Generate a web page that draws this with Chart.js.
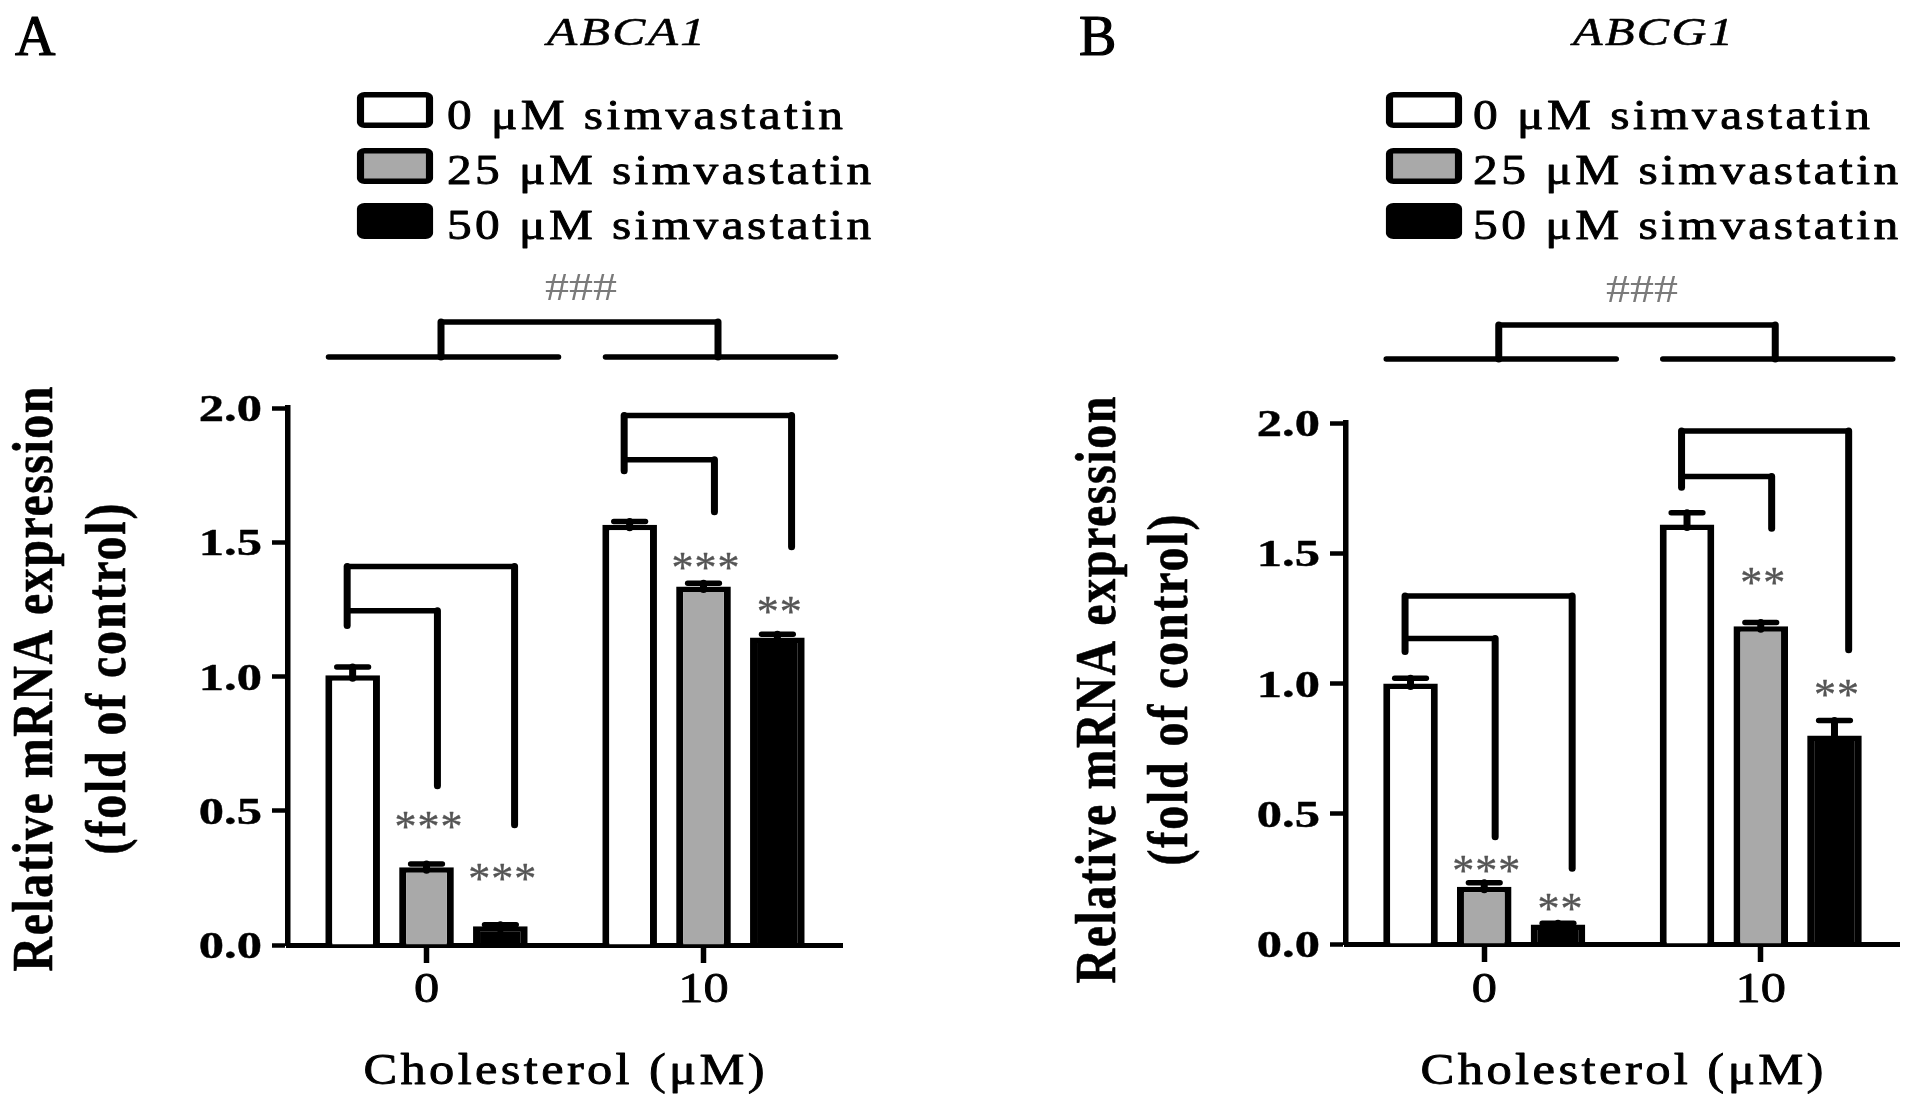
<!DOCTYPE html>
<html>
<head>
<meta charset="utf-8">
<script src="https://cdn.jsdelivr.net/npm/chart.js@4.4.0/dist/chart.umd.min.js"></script>
<style>
    html, body { margin: 0; background: #fff; }
    #wrap { position: relative; width: 1913px; height: 1103px; background: #fff; }
    canvas { position: absolute; top: 0; }
</style>
</head>
<body>
<div id="wrap">
    <canvas id="chartA" width="956" height="1103" style="left:0px"></canvas>
    <canvas id="chartB" width="957" height="1103" style="left:956px"></canvas>
</div>
<script>
const categories = ["0", "10"];
const seriesNames = ["0 μM simvastatin", "25 μM simvastatin", "50 μM simvastatin"];
const seriesColors = ["#ffffff", "#a9a9a9", "#000000"];
const yTicks = [0, 0.5, 1.0, 1.5, 2.0];

// ABCA1
const abca1_0 = [1.005, 1.565];
const abca1_25 = [0.29, 1.335];
const abca1_50 = [0.07, 1.145];
const abca1Err_0 = [0.03, 0.012];
const abca1Err_25 = [0.012, 0.012];
const abca1Err_50 = [0.005, 0.012];
const abca1Stars_25 = ["***", "***"];
const abca1Stars_50 = ["***", "**"];
const abca1StarY_25 = [0.462, 1.425];
const abca1StarY_50 = [0.269, 1.262];
// [top, left leg end, inner top, inner leg end, outer leg end]
const abca1Bracket_0 = [1.41, 1.19, 1.245, 0.593, 0.448];
const abca1Bracket_10 = [1.972, 1.766, 1.807, 1.614, 1.483];

// ABCG1
const abcg1_0 = [1.0, 1.61];
const abcg1_25 = [0.22, 1.22];
const abcg1_50 = [0.075, 0.80];
const abcg1Err_0 = [0.02, 0.045];
const abcg1Err_25 = [0.015, 0.014];
const abcg1Err_50 = [0.005, 0.058];
const abcg1Stars_25 = ["***", "**"];
const abcg1Stars_50 = ["**", "**"];
const abcg1StarY_25 = [0.303, 1.407];
const abcg1StarY_50 = [0.156, 0.98];
const abcg1Bracket_0 = [1.336, 1.123, 1.173, 0.412, 0.291];
const abcg1Bracket_10 = [1.969, 1.753, 1.795, 1.596, 1.13];

const SERIF = '"Liberation Serif", "Times New Roman", serif';
const H_LINE = 5.5;  // horizontal strokes
const V_LINE = 7;    // vertical strokes (figure is stretched sideways)

// draw text, optionally stretched to a width (or length when rotated)
function drawText(ctx, txt, o) {
    ctx.save();
    ctx.font = (o.style || "") + " " + (o.weight || "normal") + " " + o.size + "px " + SERIF;
    ctx.letterSpacing = (o.spacing || 0) + "px";
    let w = ctx.measureText(txt).width - (o.spacing || 0);
    let sx = o.sx || 1;
    if (o.rotate && o.length) {
        let extra = (o.length - w) / Math.max(1, txt.length - 1);
        ctx.letterSpacing = ((o.spacing || 0) + extra) + "px";
        w = o.length;
    } else if (o.width) {
        sx = o.width / w;
    }
    ctx.translate(o.x, o.y);
    ctx.scale(sx, 1);
    if (o.rotate) ctx.rotate(-Math.PI / 2);
    ctx.fillStyle = o.color || "#000";
    ctx.strokeStyle = o.color || "#000";
    ctx.textAlign = "left";
    ctx.textBaseline = "alphabetic";
    let x0 = o.align === "center" ? -w / 2 : o.align === "right" ? -w : 0;
    ctx.fillText(txt, x0, 0);
    if (o.stroke) {
        ctx.lineWidth = o.stroke;
        ctx.lineJoin = "round";
        ctx.strokeText(txt, x0, 0);
    }
    ctx.restore();
    return sx;
}

// straight segment, vertical ones drawn heavier
function seg(ctx, x1, y1, x2, y2) {
    ctx.lineWidth = Math.abs(x1 - x2) < 0.5 ? V_LINE : H_LINE;
    ctx.beginPath();
    ctx.moveTo(x1, y1);
    ctx.lineTo(x2, y2);
    ctx.stroke();
}

function makePanel(canvasId, p) {
    const L = p.layout;

    const decorPlugin = {
        id: "decor_" + canvasId,
        afterDatasetsDraw(chart) {
            const ctx = chart.ctx;
            const yScale = chart.scales.y;
            ctx.save();
            ctx.strokeStyle = "#000";
            ctx.lineCap = "round";
            // error bars (upper only)
            p.errs.forEach((errArr, i) => {
                chart.getDatasetMeta(i).data.forEach((bar, j) => {
                    const yTop = yScale.getPixelForValue(p.values[i][j] + errArr[j]);
                    const capW = bar.width * 0.58;
                    seg(ctx, bar.x, bar.y + 3, bar.x, yTop);
                    seg(ctx, bar.x - capW / 2, yTop, bar.x + capW / 2, yTop);
                });
            });
            ctx.restore();
        },
        afterDraw(chart) {
            const ctx = chart.ctx;
            const xScale = chart.scales.x;
            const yScale = chart.scales.y;
            const area = chart.chartArea;

            // y tick labels
            yTicks.forEach((v) => {
                drawText(ctx, v.toFixed(1), {
                    x: area.left - 26, y: yScale.getPixelForValue(v) + 13,
                    size: 38, weight: "bold", sx: 1.33, align: "right", stroke: 0.4,
                });
            });
            // x tick labels
            categories.forEach((c, i) => {
                drawText(ctx, c, {
                    x: xScale.getPixelForValue(i), y: 1002,
                    size: 42, sx: 1.2, align: "center", stroke: 0.8,
                });
            });

            ctx.save();
            ctx.strokeStyle = "#000";
            ctx.lineCap = "round";

            // comparison brackets inside the plot
            p.brackets.forEach((b, j) => {
                const m0 = chart.getDatasetMeta(0).data[j];
                const m1 = chart.getDatasetMeta(1).data[j];
                const m2 = chart.getDatasetMeta(2).data[j];
                const w = m0.width;
                const xl = m0.x - 0.1 * w;
                const xi = m1.x + 0.2 * w;
                const xo = m2.x + 0.26 * w;
                const yTop = yScale.getPixelForValue(b[0]);
                const yIn = yScale.getPixelForValue(b[2]);
                seg(ctx, xl, yScale.getPixelForValue(b[1]), xl, yTop);
                seg(ctx, xl, yTop, xo, yTop);
                seg(ctx, xo, yTop, xo, yScale.getPixelForValue(b[4]));
                seg(ctx, xl, yIn, xi, yIn);
                seg(ctx, xi, yIn, xi, yScale.getPixelForValue(b[3]));
            });

            // bracket between cholesterol groups (above the plot)
            const c0 = xScale.getPixelForValue(0);
            const c1 = xScale.getPixelForValue(1);
            const tb = L.topBracket;
            [c0, c1].forEach((c) => seg(ctx, c - 98, tb.lineY, c + 132, tb.lineY));
            seg(ctx, c0 + 14.5, tb.lineY, c0 + 14.5, tb.topY);
            seg(ctx, c0 + 14.5, tb.topY, c1 + 14.5, tb.topY);
            seg(ctx, c1 + 14.5, tb.topY, c1 + 14.5, tb.lineY);
            ctx.restore();

            // significance stars
            p.stars.forEach((arr, i) => {
                if (!arr) return;
                const meta = chart.getDatasetMeta(i);
                arr.forEach((s, j) => {
                    drawText(ctx, s, {
                        x: meta.data[j].x + 2, y: yScale.getPixelForValue(p.starY[i][j]) + 20,
                        size: 44, sx: 1.0, spacing: 1, align: "center", color: "#555", stroke: 0.4,
                    });
                });
            });
            drawText(ctx, "###", {
                x: L.hash.cx, y: L.hash.y, size: 40, sx: 1.2, align: "center", color: "#7a7a7a",
            });

            // panel letter and gene name
            drawText(ctx, L.letter.text, { x: L.letter.x, y: 55, size: 56, stroke: 1.2 });
            drawText(ctx, L.gene.text, {
                x: L.gene.cx, y: 45, size: 40, style: "italic", spacing: 2,
                width: L.gene.w, align: "center", stroke: 0.6,
            });

            // legend
            const lg = L.legend;
            let sxLegend = null;
            seriesNames.forEach((name, i) => {
                ctx.save();
                ctx.translate(lg.boxX + 37, lg.boxTops[i] + 18);
                ctx.scale(1.3, 1);
                ctx.fillStyle = seriesColors[i];
                ctx.strokeStyle = "#000";
                ctx.lineWidth = 5.5;
                ctx.beginPath();
                ctx.roundRect(-34.5 / 1.3, -15.25, 69 / 1.3, 30.5, 3);
                ctx.fill();
                ctx.stroke();
                ctx.restore();
                const o = { x: lg.textX, y: lg.baselines[i], size: 43, spacing: 3, stroke: 0.9 };
                if (sxLegend === null) { o.width = lg.width; sxLegend = drawText(ctx, name, o); }
                else { o.sx = sxLegend; drawText(ctx, name, o); }
            });

            // axis titles
            const yt = L.yTitle;
            drawText(ctx, "Relative mRNA expression", {
                x: yt.x1, y: yt.cy, size: 48, weight: "bold", sx: 1.21,
                rotate: true, length: yt.len1, align: "center", stroke: 0.5,
            });
            drawText(ctx, "(fold of control)", {
                x: yt.x2, y: yt.cy, size: 48, weight: "bold", sx: 1.21,
                rotate: true, length: yt.len2, align: "center", stroke: 0.5,
            });
            drawText(ctx, "Cholesterol (μM)", {
                x: L.xTitle.cx, y: 1084, size: 45, spacing: 3,
                width: L.xTitle.w, align: "center", stroke: 0.9,
            });
        },
    };

    const datasets = seriesNames.map((name, i) => ({
        label: name,
        data: p.values[i],
        backgroundColor: seriesColors[i],
        borderColor: "#000",
        borderWidth: { left: V_LINE, right: V_LINE, top: H_LINE, bottom: 0 },
        borderSkipped: false,
        categoryPercentage: 0.8,
        barPercentage: 0.74,
    }));

    return new Chart(document.getElementById(canvasId), {
        type: "bar",
        data: { labels: categories, datasets: datasets },
        options: {
            responsive: false,
            animation: false,
            layout: { padding: { left: 0, right: L.padRight, top: L.padTop, bottom: 0 } },
            plugins: { legend: { display: false }, tooltip: { enabled: false } },
            scales: {
                x: {
                    offset: true,
                    grid: { display: true, offset: false, drawOnChartArea: false, drawTicks: true, tickLength: 18, tickWidth: 5.5, color: "#000" },
                    border: { display: true, width: 5, color: "#000" },
                    ticks: { color: "rgba(0,0,0,0)", font: { size: 10 } },
                    afterFit: (scale) => { scale.height = L.xAxisHeight; },
                },
                y: {
                    min: 0,
                    max: 2,
                    ticks: { stepSize: 0.5, color: "rgba(0,0,0,0)", font: { size: 10 } },
                    grid: { display: true, drawOnChartArea: false, drawTicks: true, tickLength: 16, tickWidth: 4.5, color: "#000" },
                    border: { display: true, width: 5.5, color: "#000" },
                    afterFit: (scale) => { scale.width = L.axisWidth; },
                },
            },
        },
        plugins: [decorPlugin],
    });
}

makePanel("chartA", {
    values: [abca1_0, abca1_25, abca1_50],
    errs: [abca1Err_0, abca1Err_25, abca1Err_50],
    stars: [null, abca1Stars_25, abca1Stars_50],
    starY: [null, abca1StarY_25, abca1StarY_50],
    brackets: [abca1Bracket_0, abca1Bracket_10],
    layout: {
        axisWidth: 288, padRight: 114, padTop: 408, xAxisHeight: 158,
        letter: { text: "A", x: 15 },
        gene: { text: "ABCA1", cx: 626, w: 158 },
        legend: { boxX: 358, boxTops: [92, 148, 203], textX: 447, baselines: [129, 184, 239], width: 396 },
        hash: { cx: 581, y: 300 },
        topBracket: { lineY: 357, topY: 322 },
        yTitle: { x1: 52, x2: 125, cy: 679, len1: 585, len2: 351 },
        xTitle: { cx: 564, w: 401 },
    },
});

makePanel("chartB", {
    values: [abcg1_0, abcg1_25, abcg1_50],
    errs: [abcg1Err_0, abcg1Err_25, abcg1Err_50],
    stars: [null, abcg1Stars_25, abcg1Stars_50],
    starY: [null, abcg1StarY_25, abcg1StarY_50],
    brackets: [abcg1Bracket_0, abcg1Bracket_10],
    layout: {
        axisWidth: 390, padRight: 14, padTop: 423, xAxisHeight: 159,
        letter: { text: "B", x: 123 },
        gene: { text: "ABCG1", cx: 697, w: 160 },
        legend: { boxX: 431, boxTops: [92, 148, 203], textX: 517, baselines: [129, 184, 239], width: 397 },
        hash: { cx: 686, y: 302 },
        topBracket: { lineY: 359, topY: 325 },
        yTitle: { x1: 159, x2: 231, cy: 690, len1: 587, len2: 351 },
        xTitle: { cx: 666, w: 403 },
    },
});
</script>
</body>
</html>
